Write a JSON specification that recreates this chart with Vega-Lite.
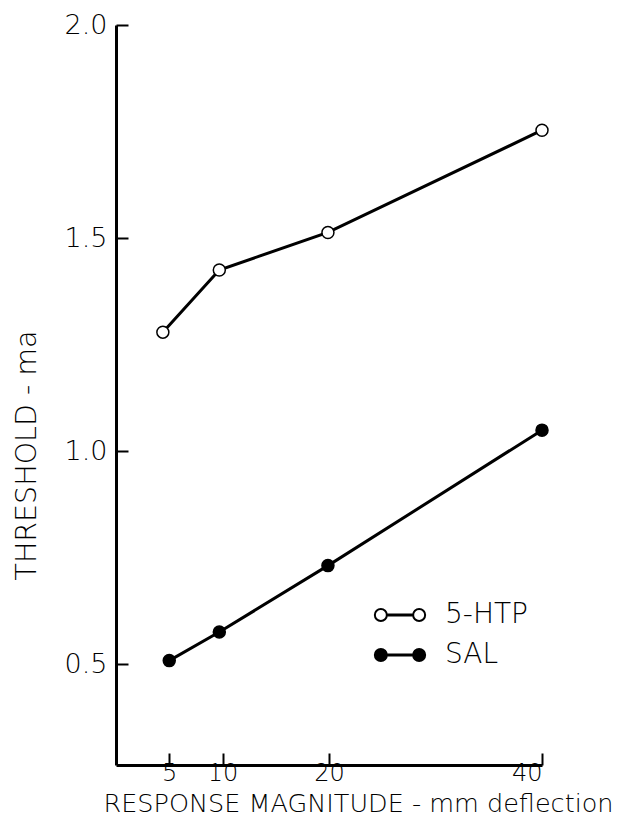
{
  "$schema": "https://vega.github.io/schema/vega-lite/v6.json",
  "width": 426,
  "height": 740,
  "autosize": {"type": "none"},
  "padding": {"left": 116, "top": 25, "right": 83, "bottom": 72},
  "background": "white",
  "config": {
    "view": {"stroke": null},
    "font": "DejaVu Sans",
    "axis": {
      "domainColor": "black",
      "domainWidth": 3,
      "tickColor": "black",
      "tickWidth": 2,
      "tickSize": -12,
      "labelColor": "black",
      "titleColor": "black",
      "labelFont": "DejaVu Sans",
      "titleFont": "DejaVu Sans",
      "labelFontWeight": 200,
      "titleFontWeight": 200,
      "grid": false
    }
  },
  "data": {
    "values": [
      {"series": "5-HTP", "mm": 4.4, "threshold": 1.279},
      {"series": "5-HTP", "mm": 9.7, "threshold": 1.425},
      {"series": "5-HTP", "mm": 19.9, "threshold": 1.513},
      {"series": "5-HTP", "mm": 40, "threshold": 1.753},
      {"series": "SAL", "mm": 5, "threshold": 0.508},
      {"series": "SAL", "mm": 9.7, "threshold": 0.575},
      {"series": "SAL", "mm": 19.9, "threshold": 0.731},
      {"series": "SAL", "mm": 40, "threshold": 1.049}
    ]
  },
  "encoding": {
    "x": {
      "field": "mm",
      "type": "quantitative",
      "scale": {"domain": [0, 40], "nice": false, "zero": false},
      "axis": {
        "values": [5, 10, 20, 40],
        "labelFontSize": 24,
        "labelPadding": 8,
        "title": "RESPONSE MAGNITUDE - mm deflection",
        "titleFontSize": 25.5,
        "titleX": 242,
        "titleY": 46,
        "titleAlign": "center",
        "titleBaseline": "alphabetic",
        "titleAnchor": null
      }
    },
    "y": {
      "field": "threshold",
      "type": "quantitative",
      "scale": {"domain": [0.263, 2.0], "nice": false, "zero": false},
      "axis": {
        "values": [0.5, 1.0, 1.5, 2.0],
        "format": ".1f",
        "labelFontSize": 27,
        "labelPadding": 21,
        "title": "THRESHOLD - ma",
        "titleFontSize": 28.5,
        "titleX": -90,
        "titleY": 430,
        "titleAngle": -90,
        "titleAlign": "center",
        "titleBaseline": "middle",
        "titleAnchor": null
      }
    }
  },
  "layer": [
    {
      "mark": {"type": "line", "color": "black", "strokeWidth": 3},
      "encoding": {"detail": {"field": "series"}}
    },
    {
      "mark": {"type": "point", "filled": true, "size": 144, "stroke": "black", "strokeWidth": 1.5, "opacity": 1},
      "encoding": {
        "fill": {
          "field": "series",
          "type": "nominal",
          "scale": {"domain": ["5-HTP", "SAL"], "range": ["white", "black"]},
          "legend": {
            "title": null,
            "orient": "none",
            "legendX": 270,
            "legendY": 576,
            "padding": 0,
            "symbolType": "M -2.515 0 A 0.6 0.6 0 1 0 -1.315 0 A 0.6 0.6 0 1 0 -2.515 0 Z M 1.315 0 A 0.6 0.6 0 1 0 2.515 0 A 0.6 0.6 0 1 0 1.315 0 Z M -1.315 -0.05 L 1.315 -0.05 L 1.315 0.05 L -1.315 0.05 Z",
            "symbolSize": 400,
            "symbolStrokeColor": "black",
            "symbolStrokeWidth": 2,
            "symbolOpacity": 1,
            "labelOffset": 31,
            "labelFontSize": 28,
            "labelFont": "DejaVu Sans",
            "labelFontWeight": 200,
            "labelColor": "black",
            "rowPadding": 12
          }
        }
      }
    }
  ]
}
